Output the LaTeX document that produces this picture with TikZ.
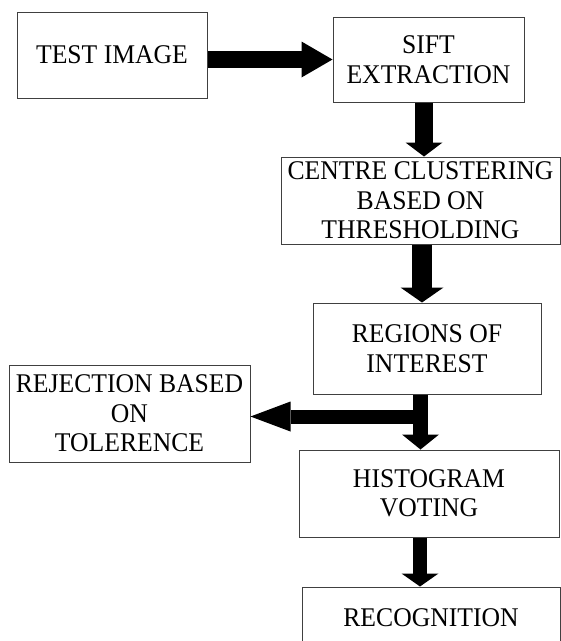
\documentclass[tikz,border=0pt]{standalone}
\usepackage{fontspec}
\setmainfont{Liberation Serif}[FakeStretch=0.95]
\usetikzlibrary{arrows.meta,calc}
\begin{document}
\begin{tikzpicture}[x=1pt,y=-1pt,
  box/.style={draw=black!75,line width=1pt,inner sep=0pt,align=center,
    font=\fontsize{27}{29.5}\selectfont},
  blk/.style n args={3}{line width=#1,
    -{Triangle[length=#2 0 0,width=#3 0 0,line width=0pt]}},
]
\useasboundingbox (0,0) rectangle (561,641);
\node[box,minimum width=190pt,minimum height=86pt] (test) at (112,55) {TEST IMAGE};
\node[box,minimum width=191pt,minimum height=85pt] (sift) at (428.5,59.5) {SIFT\\EXTRACTION};
\node[box,minimum width=279pt,minimum height=87pt] (centre) at (420.5,200.5) {CENTRE CLUSTERING\\BASED ON\\THRESHOLDING};
\node[box,minimum width=228pt,minimum height=91pt] (roi) at (427,348.5) {REGIONS OF\\INTEREST};
\node[box,minimum width=241pt,minimum height=97pt] (rej) at (129.5,413.5) {REJECTION BASED\\ON\\TOLERENCE};
\node[box,minimum width=260pt,minimum height=87pt] (hist) at (429,493.5) {HISTOGRAM\\VOTING};
\node[box,minimum width=258pt,minimum height=62pt] (recog) at (431,618) {RECOGNITION};

\draw[blk={17pt}{31pt}{36pt}] (test.east |- sift.west) -- (sift.west);
\draw[blk={18pt}{14pt}{37pt}] ([xshift=-4.5pt]sift.south) -- ([xshift=-4.5pt]sift.south |- centre.north);
\draw[blk={20pt}{15pt}{43pt}] ([xshift=1.5pt]centre.south) -- ([xshift=1.5pt]centre.south |- roi.north);
\draw[blk={15pt}{15pt}{37pt}] ([xshift=-6.5pt]roi.south) -- ([xshift=-6.5pt]roi.south |- hist.north);
\coordinate (split) at ([xshift=-6.5pt,yshift=-22pt]roi.south);
\draw[blk={14pt}{40pt}{30pt}] (split) -- (split -| rej.east);
\draw[blk={14pt}{13pt}{37pt}] ([xshift=-9pt]hist.south) -- ([xshift=-9pt]hist.south |- recog.north);
\end{tikzpicture}
\end{document}
